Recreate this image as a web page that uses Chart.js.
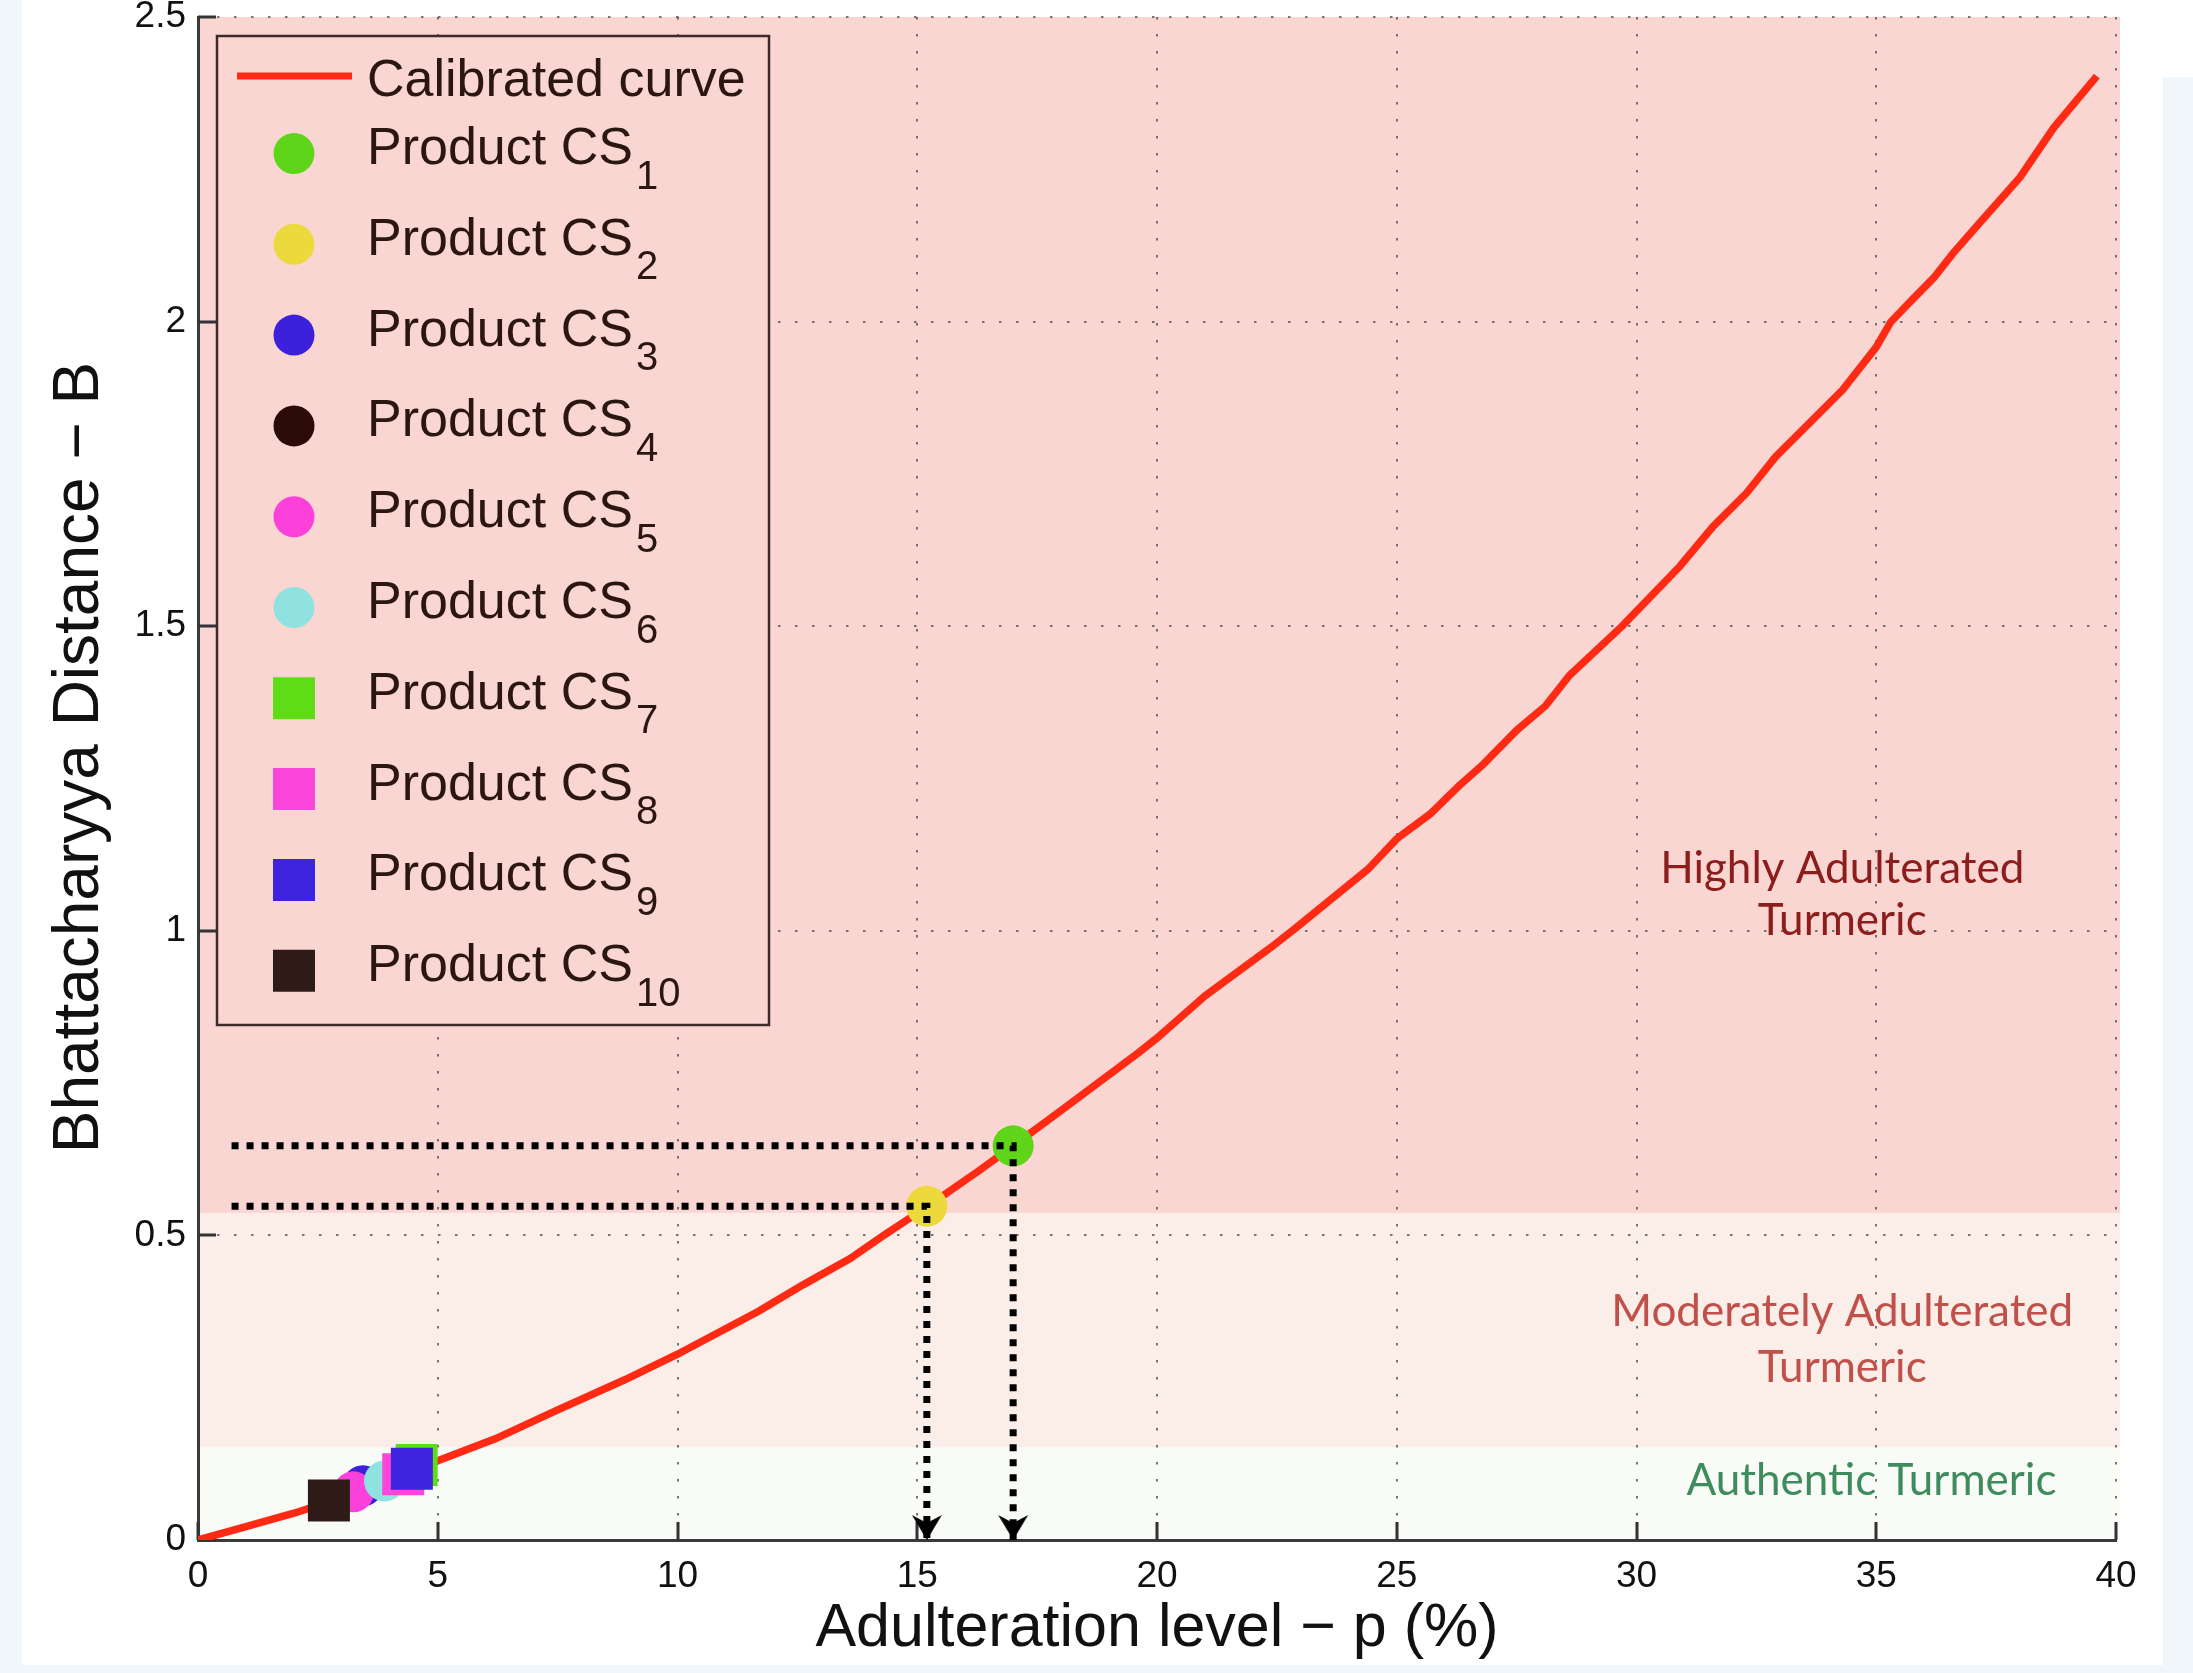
<!DOCTYPE html>
<html>
<head>
<meta charset="utf-8">
<script src="https://cdn.jsdelivr.net/npm/chart.js@4.4.0/dist/chart.umd.min.js"></script>
<style>
  html, body { margin: 0; padding: 0; background: #f1f6fb; }
  #wrap { position: relative; width: 2193px; height: 1673px; }
  .white { position: absolute; background: #fff; }
  canvas { position: absolute; left: 0; top: 0; }
</style>
</head>
<body>
<div id="wrap">
  <div class="white" style="left:22px;top:0;width:2141px;height:1665px"></div>
  <div class="white" style="left:2163px;top:0;width:30px;height:77px"></div>
  <canvas id="chart" width="2193" height="1673"></canvas>
</div>
<script>
// calibrated curve
const curveX = [0, 1, 2, 2.75, 4, 5, 6.2, 7.4, 8.9, 10, 11.7, 12.6, 13.6, 14.3, 15.2, 16.3, 17, 18, 19.6, 20,
  21, 22.4, 22.9, 24.4, 25, 25.7, 26.3, 26.8, 27.5, 28.1, 28.6, 29.7, 30.9, 31.6, 32.3, 32.9, 33.6, 34.3, 35,
  35.3, 35.7, 36.2, 36.6, 37.1, 38, 38.7, 39.6];
const curveY = [0, 0.022, 0.044, 0.063, 0.098, 0.13, 0.166, 0.21, 0.263, 0.305, 0.376, 0.418, 0.462, 0.5, 0.547, 0.607, 0.647, 0.705, 0.799, 0.824,
  0.893, 0.974, 1.005, 1.101, 1.151, 1.192, 1.238, 1.273, 1.329, 1.369, 1.419, 1.5, 1.598, 1.664, 1.719, 1.778, 1.833, 1.888, 1.958,
  1.999, 2.032, 2.072, 2.112, 2.157, 2.237, 2.318, 2.403];

// products CS1..CS10
const productSubs = ['1', '2', '3', '4', '5', '6', '7', '8', '9', '10'];
const productX = [17.0, 15.2, 3.44, 2.75, 3.24, 3.89, 4.56, 4.28, 4.46, 2.73];
const productY = [0.647, 0.548, 0.089, 0.065, 0.079, 0.097, 0.123, 0.108, 0.117, 0.065];
const productColors = ['#5fd51a', '#ecd93b', '#3c20dc', '#2b0b08', '#fc40da', '#8fe2df', '#5edc16', '#fc46da', '#3d22de', '#2e1a16'];
const productShapes = ['circle', 'circle', 'circle', 'circle', 'circle', 'circle', 'rect', 'rect', 'rect', 'rect'];
const readOffProducts = [0, 1]; // CS1 and CS2 have dotted read-off guides
const guideStartX = 0.7;

// background zones (B limits) and their labels
const zoneLimits = [0, 0.152, 0.537, 2.5];
const zoneColors = ['#f8fbf6', '#fbede8', '#fad6d2'];
const zoneLabels = [
  { lines: ['Authentic Turmeric'], x: 34.9, y: [0.074], color: '#3e8c5e' },
  { lines: ['Moderately Adulterated', 'Turmeric'], x: 34.29, y: [0.352, 0.26], color: '#c0504a' },
  { lines: ['Highly Adulterated', 'Turmeric'], x: 34.29, y: [1.079, 0.9925], color: '#8c1d1d' }
];

const FONT = "'Liberation Sans', Arial, Helvetica, sans-serif";
const yTitle = 'Bhattacharyya Distance − B';

function makeArrowHead() {
  const c = document.createElement('canvas');
  c.width = 34; c.height = 60;
  const g = c.getContext('2d');
  g.fillStyle = '#000';
  g.beginPath();
  g.moveTo(17, 30); // tip sits on the canvas centre, i.e. on the data point
  g.lineTo(2, 5);
  g.lineTo(17, 13);
  g.lineTo(32, 5);
  g.closePath();
  g.fill();
  return c;
}
const arrowHead = makeArrowHead();

const datasets = [];
datasets.push({
  label: 'Calibrated curve',
  data: curveX.map((x, i) => ({ x, y: curveY[i] })),
  showLine: true,
  borderColor: '#ff2a14',
  borderWidth: 7.5,
  pointRadius: 0,
  order: 20,
  legend: true
});
productSubs.forEach((s, i) => {
  datasets.push({
    label: 'Product CS' + s,
    sub: s,
    data: [{ x: productX[i], y: productY[i] }],
    pointStyle: productShapes[i],
    pointRadius: productShapes[i] === 'rect' ? 29.7 : 20.5,
    backgroundColor: productColors[i],
    borderWidth: 0,
    order: 10 - i,
    legend: true
  });
});
readOffProducts.forEach(i => {
  datasets.push({
    data: [{ x: guideStartX, y: productY[i] }, { x: productX[i], y: productY[i] }, { x: productX[i], y: 0 }],
    showLine: true,
    borderColor: '#000',
    borderWidth: 7,
    borderDash: [7, 8],
    borderCapStyle: 'butt',
    pointRadius: 0,
    order: 0
  });
});
datasets.push({
  data: readOffProducts.map(i => ({ x: productX[i], y: 0 })),
  pointStyle: arrowHead,
  pointRadius: 28,
  order: -1
});

const zonesPlugin = {
  id: 'zones',
  beforeDraw(chart) {
    const { ctx, chartArea: a, scales: { y } } = chart;
    ctx.save();
    zoneColors.forEach((c, i) => {
      const top = y.getPixelForValue(zoneLimits[i + 1]);
      const bot = y.getPixelForValue(zoneLimits[i]);
      ctx.fillStyle = c;
      ctx.fillRect(a.left, top, a.right - a.left + 4, bot - top);
    });
    ctx.restore();
  },
  beforeDatasetsDraw(chart) {
    const { ctx, chartArea: a, scales: { x, y } } = chart;
    ctx.save();
    // inward ticks, MATLAB style
    ctx.strokeStyle = '#333';
    ctx.lineWidth = 3;
    ctx.beginPath();
    x.ticks.forEach(t => {
      const px = Math.round(x.getPixelForValue(t.value));
      ctx.moveTo(px, a.bottom); ctx.lineTo(px, a.bottom - 18);
    });
    y.ticks.forEach(t => {
      const py = Math.round(y.getPixelForValue(t.value));
      ctx.moveTo(a.left, py); ctx.lineTo(a.left + 18, py);
    });
    ctx.stroke();
    // zone labels
    ctx.font = "44px Lato, 'Open Sans', sans-serif";
    ctx.textAlign = 'center';
    ctx.textBaseline = 'alphabetic';
    zoneLabels.forEach(z => {
      ctx.fillStyle = z.color;
      z.lines.forEach((t, k) => ctx.fillText(t, x.getPixelForValue(z.x), y.getPixelForValue(z.y[k])));
    });
    ctx.restore();
  },
  afterDraw(chart) {
    // y title sits a little above the middle of the axis in the original
    const { ctx, chartArea: a } = chart;
    ctx.save();
    ctx.translate(80, (a.top + a.bottom) / 2 - 21);
    ctx.rotate(-Math.PI / 2);
    ctx.font = '64px ' + FONT;
    ctx.fillStyle = '#111';
    ctx.textAlign = 'center';
    ctx.textBaseline = 'middle';
    ctx.fillText(yTitle, 0, 0);
    ctx.restore();
  }
};

const legendPlugin = {
  id: 'boxLegend',
  afterDraw(chart) {
    const { ctx, chartArea: a } = chart;
    const left = a.left + 19, top = a.top + 19, w = 552, h = 989;
    ctx.save();
    ctx.fillStyle = '#fad6d2';
    ctx.fillRect(left, top, w, h);
    ctx.strokeStyle = '#3d2b2b';
    ctx.lineWidth = 2.5;
    ctx.strokeRect(left, top, w, h);
    ctx.textAlign = 'left';
    ctx.textBaseline = 'alphabetic';
    let row = 0;
    chart.data.datasets.filter(d => d.legend).forEach(d => {
      if (d.showLine) {
        const ly = top + 40;
        ctx.strokeStyle = d.borderColor;
        ctx.lineWidth = 7;
        ctx.beginPath();
        ctx.moveTo(left + 20, ly); ctx.lineTo(left + 135, ly);
        ctx.stroke();
        ctx.fillStyle = '#2b1612';
        ctx.font = '52px ' + FONT;
        ctx.fillText(d.label, left + 150, top + 60);
        return;
      }
      const my = top + 117.5 + row * 90.8;
      ctx.fillStyle = d.backgroundColor;
      Chart.helpers.drawPoint(ctx, { pointStyle: d.pointStyle, radius: d.pointRadius, rotation: 0, borderWidth: 0 }, left + 77, my);
      ctx.fillStyle = '#2b1612';
      ctx.font = '52px ' + FONT;
      const main = 'Product CS';
      ctx.fillText(main, left + 150, my + 10.5);
      const mw = ctx.measureText(main).width;
      ctx.font = '40px ' + FONT;
      ctx.fillText(d.sub, left + 153 + mw, my + 35);
      row++;
    });
    ctx.restore();
  }
};

new Chart(document.getElementById('chart'), {
  type: 'scatter',
  data: { datasets },
  plugins: [zonesPlugin, legendPlugin],
  options: {
    responsive: false,
    animation: false,
    events: [],
    layout: { autoPadding: false, padding: { top: 17, right: 77, left: 0, bottom: 0 } },
    plugins: { legend: { display: false }, tooltip: { enabled: false } },
    scales: {
      x: {
        type: 'linear',
        min: 0, max: 40,
        ticks: { stepSize: 5, color: '#111', padding: 15, font: { family: FONT, size: 37 } },
        grid: { color: 'rgba(85,85,85,0.8)', lineWidth: 2, drawTicks: false },
        border: { display: true, color: '#3a3a3a', width: 3, dash: [2.5, 14.5] },
        title: { display: true, text: 'Adulteration level − p (%)', color: '#111',
                 font: { family: FONT, size: 61 }, padding: { top: 0, bottom: 7 } },
        afterFit(s) { s.height = 133; s.paddingLeft = 0; s.paddingRight = 0; }
      },
      y: {
        type: 'linear',
        min: 0, max: 2.5,
        ticks: { stepSize: 0.5, color: '#111', padding: 12, autoSkip: false,
                 font: { family: FONT, size: 37, lineHeight: 0.2 },
                 callback: v => String(+v.toFixed(1)) },
        grid: { color: 'rgba(85,85,85,0.8)', lineWidth: 2, drawTicks: false },
        border: { display: true, color: '#3a3a3a', width: 3, dash: [2.5, 14.5] },
        title: { display: false },
        afterFit(s) { s.width = 198; s.paddingTop = 0; s.paddingBottom = 0; }
      }
    }
  }
});
</script>
</body>
</html>
